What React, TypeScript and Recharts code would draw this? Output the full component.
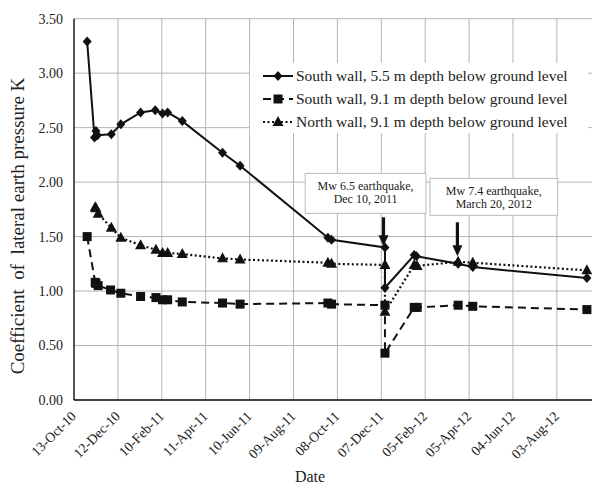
import React from "react"
import {
    LineChart,
    Line,
    XAxis,
    YAxis,
    CartesianGrid,
    Legend,
    ReferenceArea,
    ReferenceLine
} from "recharts"

const FONT = "'Liberation Serif', 'Times New Roman', serif"
const START = Date.UTC(2010, 9, 13)
const DAY = 86400000
const MONTHS = ["Jan", "Feb", "Mar", "Apr", "May", "Jun", "Jul", "Aug", "Sep", "Oct", "Nov", "Dec"]

// South wall, 5.5 m
const south55Dates = [
    "2010-10-31", "2010-11-10", "2010-11-12", "2010-11-14", "2010-12-03", "2010-12-16",
    "2011-01-12", "2011-02-01", "2011-02-11", "2011-02-18", "2011-03-10", "2011-05-04",
    "2011-05-28", "2011-09-25", "2011-09-30", "2011-12-12", "2011-12-12", "2012-01-21",
    "2012-01-24", "2012-03-21", "2012-04-10", "2012-09-13"
]
const south55K = [
    3.29, 2.41, 2.47, 2.43, 2.44, 2.53,
    2.64, 2.66, 2.63, 2.64, 2.56, 2.27,
    2.15, 1.49, 1.47, 1.40, 1.03, 1.33,
    1.32, 1.25, 1.22, 1.12
]

// South wall, 9.1 m
const south91Dates = [
    "2010-10-31", "2010-11-11", "2010-11-12", "2010-11-15", "2010-12-02", "2010-12-16",
    "2011-01-12", "2011-02-02", "2011-02-11", "2011-02-18", "2011-03-10", "2011-05-04",
    "2011-05-28", "2011-09-25", "2011-09-30", "2011-12-12", "2011-12-12", "2012-01-21",
    "2012-01-25", "2012-03-21", "2012-04-10", "2012-09-13"
]
const south91K = [
    1.50, 1.08, 1.07, 1.05, 1.01, 0.98,
    0.95, 0.94, 0.92, 0.92, 0.90, 0.89,
    0.88, 0.89, 0.88, 0.87, 0.43, 0.85,
    0.85, 0.87, 0.86, 0.83
]

// North wall, 9.1 m
const north91Dates = [
    "2010-11-11", "2010-11-12", "2010-11-15", "2010-12-03", "2010-12-16", "2011-01-12",
    "2011-02-02", "2011-02-11", "2011-02-18", "2011-03-10", "2011-05-04", "2011-05-28",
    "2011-09-25", "2011-09-30", "2011-12-12", "2011-12-12", "2012-01-21", "2012-01-25",
    "2012-03-21", "2012-04-10", "2012-09-13"
]
const north91K = [
    1.77, 1.76, 1.71, 1.58, 1.49, 1.42,
    1.38, 1.35, 1.35, 1.34, 1.30, 1.29,
    1.26, 1.25, 1.24, 0.81, 1.24, 1.23,
    1.27, 1.26, 1.19
]

const seriesNames = [
    "South wall, 5.5 m depth below ground level",
    "South wall, 9.1 m depth below ground level",
    "North wall, 9.1 m depth below ground level"
]

const xTicks = [0, 60, 120, 180, 240, 300, 360, 420, 480, 540, 600, 660]
const yTicks = [0, 0.5, 1, 1.5, 2, 2.5, 3, 3.5]

const quakeDates = ["2011-12-10", "2012-03-20"]
const quakeText = [
    ["Mw 6.5 earthquake,", "Dec  10, 2011"],
    ["Mw 7.4 earthquake,", "March 20, 2012"]
]

const toDay = (s: string) => {
    const [y, m, d] = s.split("-").map(Number)
    return Math.round((Date.UTC(y, m - 1, d) - START) / DAY)
}

const fmtDay = (day: number) => {
    const d = new Date(START + day * DAY)
    const dd = String(d.getUTCDate()).padStart(2, "0")
    const yy = String(d.getUTCFullYear() % 100).padStart(2, "0")
    return `${dd}-${MONTHS[d.getUTCMonth()]}-${yy}`
}

const build = (dates: string[], vals: number[]) =>
    dates.map((s, i) => ({ day: toDay(s), k: vals[i] }))

const south55 = build(south55Dates, south55K)
const south91 = build(south91Dates, south91K)
const north91 = build(north91Dates, north91K)

const Diamond = ({ cx, cy }: any) => (
    <polygon points={`${cx},${cy - 5} ${cx + 4.5},${cy} ${cx},${cy + 5} ${cx - 4.5},${cy}`} fill="#111" />
)
const Square = ({ cx, cy }: any) => (
    <rect x={cx - 4.5} y={cy - 4.5} width={9} height={9} fill="#111" />
)
const Triangle = ({ cx, cy }: any) => (
    <polygon points={`${cx},${cy - 6} ${cx + 5.5},${cy + 4} ${cx - 5.5},${cy + 4}`} fill="#111" />
)

const markers = [Diamond, Square, Triangle]
const dashes = [undefined, "8 5", "2 2.5"]

const dotFor = (M: any) => (p: any) => <M key={p.index} cx={p.cx} cy={p.cy} />

function DateTick({ x, y, payload }: any) {
    const tx = x + 3
    const ty = y + 17
    return (
        <text x={tx} y={ty} textAnchor="end" fontSize={13.8} fontFamily={FONT} fill="#222"
              transform={`rotate(-45, ${tx}, ${ty})`}>
            {fmtDay(payload.value)}
        </text>
    )
}

function LegendBox() {
    return (
        <div style={{ background: "#fff", width: 338, height: 70, fontFamily: FONT }}>
            {seriesNames.map((name, i) => {
                const M = markers[i]
                return (
                    <div key={name} style={{ display: "flex", alignItems: "center", height: 23, paddingTop: i === 0 ? 1 : 0 }}>
                        <svg width={46} height={14} style={{ flex: "none" }}>
                            <line x1={13} y1={7} x2={43} y2={7} stroke="#111" strokeWidth={2}
                                  strokeDasharray={dashes[i]} />
                            <M cx={28} cy={7} />
                        </svg>
                        <span style={{ fontSize: 15.5, color: "#222", whiteSpace: "nowrap" }}>{name}</span>
                    </div>
                )
            })}
        </div>
    )
}

const boxes = [
    { x1: 316, x2: 481, y1: 1.713, y2: 2.08 },
    { x1: 486.5, x2: 661, y1: 1.695, y2: 2.034 }
]
const arrowK = [
    [1.677, 1.411],
    [1.631, 1.319]
]

const boxShape = (lines: string[]) => (p: any) => (
    <g>
        <rect x={p.x} y={p.y} width={p.width} height={p.height} fill="#fff" stroke="#bbb" strokeWidth={1} />
        <text x={p.x + p.width / 2} y={p.y + 17} textAnchor="middle" fontSize={12} fontFamily={FONT} fill="#222">{lines[0]}</text>
        <text x={p.x + p.width / 2} y={p.y + 30} textAnchor="middle" fontSize={12} fontFamily={FONT} fill="#222">{lines[1]}</text>
    </g>
)

const arrowShape = (p: any) => {
    const { x1, y1, y2 } = p
    return (
        <g>
            <line x1={x1} y1={y1} x2={x1} y2={y2 - 9} stroke="#111" strokeWidth={3.2} />
            <polygon points={`${x1 - 5},${y2 - 11} ${x1 + 5},${y2 - 11} ${x1},${y2}`} fill="#111" />
        </g>
    )
}

export default function App() {
    const seriesData = [south55, south91, north91]
    return (
        <div style={{ position: "absolute", left: 0, top: 0, width: 592, height: 484, overflow: "hidden", background: "#fff" }}>
            <LineChart width={620} height={484} margin={{ top: 18.7, right: 19.2, left: 0, bottom: 0 }}
                       style={{ fontFamily: FONT }}>
                <CartesianGrid stroke="#b4b4b4" strokeWidth={1} />
                <XAxis
                    type="number"
                    dataKey="day"
                    domain={[0, 720]}
                    ticks={xTicks}
                    interval={0}
                    height={84}
                    tickSize={0}
                    tickMargin={0}
                    axisLine={{ stroke: "#111", strokeWidth: 1.3 }}
                    tickLine={false}
                    tick={<DateTick />}
                    allowDataOverflow
                    label={(p: any) => (
                        <text x={310} y={482} textAnchor="middle" fontSize={16} fontFamily={FONT} fill="#222">Date</text>
                    )}
                />
                <YAxis
                    type="number"
                    domain={[0, 3.5]}
                    ticks={yTicks}
                    interval={0}
                    width={74}
                    tickSize={0}
                    tickMargin={11}
                    axisLine={{ stroke: "#111", strokeWidth: 1.3 }}
                    tickLine={false}
                    tickFormatter={(v: number) => v.toFixed(2)}
                    tick={{ fontSize: 14, fontFamily: FONT, fill: "#222" }}
                />
                {seriesData.map((d, i) => (
                    <Line
                        key={seriesNames[i]}
                        data={d}
                        dataKey="k"
                        name={seriesNames[i]}
                        type="linear"
                        stroke="#111"
                        strokeWidth={i === 2 ? 2.2 : 2}
                        strokeDasharray={dashes[i]}
                        dot={dotFor(markers[i])}
                        activeDot={false}
                        isAnimationActive={false}
                    />
                ))}
                {boxes.map((b, i) => (
                    <ReferenceArea key={"box" + i} x1={b.x1} x2={b.x2} y1={b.y1} y2={b.y2}
                                   shape={boxShape(quakeText[i])} ifOverflow="visible" />
                ))}
                {quakeDates.map((s, i) => (
                    <ReferenceLine key={"arrow" + i}
                                   segment={[{ x: toDay(s), y: arrowK[i][0] }, { x: toDay(s), y: arrowK[i][1] }]}
                                   shape={arrowShape} ifOverflow="visible" />
                ))}
                <Legend
                    layout="vertical"
                    align="center"
                    verticalAlign="middle"
                    content={<LegendBox />}
                    wrapperStyle={{ left: 250, top: 63, width: 338, height: 70 }}
                />
            </LineChart>
            <div style={{
                position: "absolute", left: 18 - 180, top: 226 - 11, width: 360, height: 22,
                lineHeight: "22px", textAlign: "center", transform: "rotate(-90deg)",
                fontFamily: FONT, fontSize: 19, color: "#222", whiteSpace: "pre"
            }}>
                {"Coefficient  of  lateral earth pressure K"}
            </div>
        </div>
    )
}
